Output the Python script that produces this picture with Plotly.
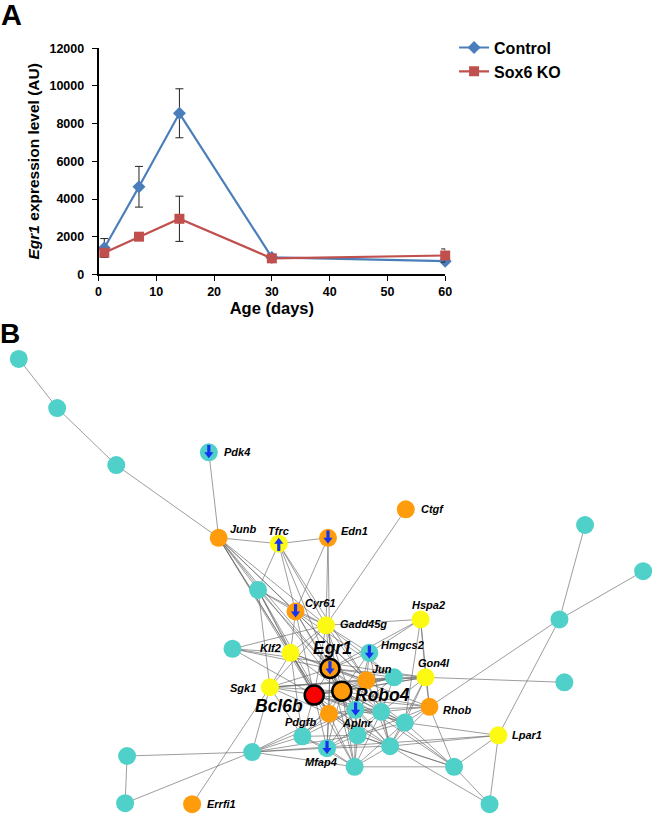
import plotly.graph_objects as go

# ---------------- Panel A data ----------------
age_days = [1, 7, 14, 30, 60]
control_vals = [1400, 4650, 8550, 900, 700]
control_err = [500, 1080, 1300, 150, 100]
ko_vals = [1150, 2000, 2950, 850, 1000]
ko_err = [150, 100, 1200, 120, 350]
y_ticks = [0, 2000, 4000, 6000, 8000, 10000, 12000]
x_ticks = [0, 10, 20, 30, 40, 50, 60]

# ---------------- Panel B data (network layout coordinates) ----------------
node_names = ["n1", "n2", "n3", "Pdk4", "Junb", "Tfrc", "Edn1", "Ctgf", "n4", "Cyr61",
              "Gadd45g", "Hspa2", "n5", "Klf2", "Hmgcs2", "Egr1", "Jun", "n6", "Gon4l", "Sgk1",
              "Bcl6b", "Robo4", "Rhob", "Aplnr", "n7", "Pdgfb", "n8", "n9", "n10", "n11",
              "Mfap4", "n12", "n13", "n14", "Errfi1", "n15", "n16", "Lpar1", "n17", "n18",
              "n19", "n20", "n21"]
node_x = [16, 55, 115, 209, 219, 280, 330, 409, 259, 297,
          328, 424, 233, 292, 372, 332, 369, 397, 429, 271,
          316, 344, 433, 358, 384, 331, 408, 304, 360, 393,
          329, 253, 357, 458, 192, 126, 124, 503, 494, 570,
          565, 591, 650]
node_y = [358, 408, 466, 453, 540, 546, 540, 511, 593, 615,
          629, 623, 653, 657, 657, 673, 685, 682, 682, 692,
          700, 696, 712, 715, 717, 719, 728, 742, 741, 752,
          754, 758, 773, 773, 811, 762, 810, 741, 811, 687,
          623, 527, 574]
node_group = ["other", "other", "other", "other", "up", "yellow", "up", "up", "other", "up",
              "yellow", "yellow", "other", "yellow", "other", "up", "up", "other", "yellow", "yellow",
              "bcl6b", "up", "up", "other", "other", "up", "other", "other", "other", "other",
              "other", "other", "other", "other", "up", "other", "other", "yellow", "other", "other",
              "other", "other", "other"]
down_genes = ["Pdk4", "Edn1", "Cyr61", "Hmgcs2", "Egr1", "Aplnr", "Mfap4"]
up_genes = ["Tfrc"]
key_genes = ["Egr1", "Robo4", "Bcl6b"]

edges = [
    ("n1", "n2"), ("n2", "n3"), ("n3", "Junb"), ("Pdk4", "Junb"), ("Junb", "Tfrc"), ("Tfrc", "Edn1"),
    ("Ctgf", "Gadd45g"), ("Gon4l", "n18"), ("Rhob", "n19"), ("Lpar1", "n19"), ("n19", "n20"),
    ("n19", "n21"), ("Lpar1", "n17"), ("n14", "n17"), ("n11", "n17"), ("Rhob", "n14"),
    ("Lpar1", "n14"), ("Lpar1", "n8"), ("Lpar1", "n11"), ("Lpar1", "n12"), ("n12", "n15"),
    ("n15", "n16"), ("n16", "n12"), ("Errfi1", "Sgk1"),
    ("n5", "Klf2"), ("n5", "Gadd45g"), ("n5", "Egr1"), ("n5", "Bcl6b"), ("n5", "Gon4l"),
    ("Junb", "n4"), ("Junb", "Cyr61"), ("Junb", "Gadd45g"), ("Junb", "Klf2"), ("Junb", "Egr1"),
    ("Junb", "Bcl6b"), ("Junb", "Robo4"), ("Junb", "Jun"), ("Junb", "Pdgfb"),
    ("Tfrc", "n4"), ("Tfrc", "Cyr61"), ("Tfrc", "Gadd45g"), ("Tfrc", "Egr1"), ("Tfrc", "Jun"),
    ("Edn1", "Cyr61"), ("Edn1", "Gadd45g"), ("Edn1", "Egr1"),
    ("n4", "Cyr61"), ("n4", "Klf2"), ("n4", "Egr1"), ("n4", "Bcl6b"), ("n4", "Sgk1"),
    ("n4", "Gadd45g"), ("n4", "Pdgfb"),
    ("Cyr61", "Gadd45g"), ("Cyr61", "Klf2"), ("Cyr61", "Egr1"), ("Cyr61", "Bcl6b"),
    ("Cyr61", "Robo4"), ("Cyr61", "Jun"), ("Cyr61", "n6"),
    ("Gadd45g", "Klf2"), ("Gadd45g", "Egr1"), ("Gadd45g", "Hmgcs2"), ("Gadd45g", "Robo4"),
    ("Gadd45g", "Bcl6b"), ("Gadd45g", "Jun"), ("Gadd45g", "Hspa2"), ("Gadd45g", "n6"),
    ("Gadd45g", "Aplnr"), ("Gadd45g", "Sgk1"),
    ("Hspa2", "Egr1"), ("Hspa2", "Hmgcs2"), ("Hspa2", "Rhob"), ("Hspa2", "n8"), ("Hspa2", "Gon4l"),
    ("Klf2", "Egr1"), ("Klf2", "Bcl6b"), ("Klf2", "Robo4"), ("Klf2", "Sgk1"), ("Klf2", "Pdgfb"),
    ("Klf2", "n9"), ("Klf2", "Jun"),
    ("Hmgcs2", "Egr1"), ("Hmgcs2", "Robo4"), ("Hmgcs2", "Jun"), ("Hmgcs2", "Aplnr"), ("Hmgcs2", "n11"),
    ("Egr1", "Robo4"), ("Egr1", "Bcl6b"), ("Egr1", "Jun"), ("Egr1", "n6"), ("Egr1", "Gon4l"),
    ("Egr1", "Sgk1"), ("Egr1", "Pdgfb"), ("Egr1", "Aplnr"), ("Egr1", "n7"), ("Egr1", "n10"),
    ("Egr1", "Mfap4"), ("Egr1", "n13"), ("Egr1", "n8"), ("Egr1", "Rhob"),
    ("Jun", "Robo4"), ("Jun", "n6"), ("Jun", "Gon4l"), ("Jun", "Aplnr"), ("Jun", "n7"),
    ("Jun", "Bcl6b"), ("Jun", "n10"), ("Jun", "n11"),
    ("n6", "Robo4"), ("n6", "Gon4l"), ("n6", "Aplnr"), ("n6", "n7"), ("n6", "Bcl6b"), ("n6", "Sgk1"),
    ("Gon4l", "Robo4"), ("Gon4l", "Rhob"), ("Gon4l", "n8"), ("Gon4l", "n7"), ("Gon4l", "Bcl6b"),
    ("Gon4l", "n11"), ("Gon4l", "Sgk1"),
    ("Sgk1", "Bcl6b"), ("Sgk1", "Robo4"), ("Sgk1", "Pdgfb"), ("Sgk1", "n9"), ("Sgk1", "Jun"),
    ("Sgk1", "n12"),
    ("Bcl6b", "Robo4"), ("Bcl6b", "Pdgfb"), ("Bcl6b", "Aplnr"), ("Bcl6b", "n9"), ("Bcl6b", "n10"),
    ("Bcl6b", "Mfap4"), ("Bcl6b", "n13"), ("Bcl6b", "n7"), ("Bcl6b", "n11"), ("Bcl6b", "n8"),
    ("Bcl6b", "Rhob"),
    ("Robo4", "Pdgfb"), ("Robo4", "Aplnr"), ("Robo4", "n7"), ("Robo4", "n8"), ("Robo4", "n9"),
    ("Robo4", "n10"), ("Robo4", "n11"), ("Robo4", "Mfap4"), ("Robo4", "n13"), ("Robo4", "Rhob"),
    ("Robo4", "n14"),
    ("Rhob", "n8"), ("Rhob", "n7"), ("Rhob", "n11"), ("Rhob", "Aplnr"), ("Rhob", "n10"),
    ("Aplnr", "Pdgfb"), ("Aplnr", "n7"), ("Aplnr", "n10"), ("Aplnr", "n11"), ("Aplnr", "Mfap4"),
    ("Aplnr", "n13"), ("Aplnr", "n9"), ("Aplnr", "n8"),
    ("n7", "n8"), ("n7", "n10"), ("n7", "n11"), ("n7", "n13"), ("n7", "Pdgfb"), ("n7", "Mfap4"),
    ("Pdgfb", "n9"), ("Pdgfb", "n10"), ("Pdgfb", "Mfap4"), ("Pdgfb", "n13"), ("Pdgfb", "n12"),
    ("Pdgfb", "n11"),
    ("n8", "n11"), ("n8", "n10"), ("n8", "n13"), ("n8", "n14"),
    ("n9", "n10"), ("n9", "Mfap4"), ("n9", "n13"), ("n9", "n12"),
    ("n10", "n11"), ("n10", "Mfap4"), ("n10", "n13"), ("n10", "n12"),
    ("n11", "n13"), ("n11", "n14"), ("n11", "Mfap4"),
    ("Mfap4", "n13"), ("Mfap4", "n12"),
    ("n12", "n13"), ("n12", "Aplnr"), ("n13", "n14"), ("n14", "n7"), ("n14", "n10"),
]

# ---------------- styles ----------------
FONT = "Liberation Sans, Arial, sans-serif"
BLUE = "#4a7ebb"
RED = "#c0504d"
group_color = {"other": "#4fd1c9", "up": "#ff9c0c", "yellow": "#fcfa12", "bcl6b": "#fa0000"}
ARROW = "#1433f0"

label_style = {
    # name: (xanchor, xshift, yshift)
    "Pdk4": ("left", 13, 0), "Junb": ("left", 9, 9), "Tfrc": ("center", 0, 13),
    "Edn1": ("left", 11, 7), "Ctgf": ("left", 13, 0), "Cyr61": ("left", 7, 9),
    "Gadd45g": ("left", 12, 1), "Hspa2": ("center", 8, 14), "Klf2": ("right", -8, 5),
    "Hmgcs2": ("left", 10, 8), "Egr1": ("center", 3, 21), "Jun": ("left", 4, 11),
    "Gon4l": ("center", 8, 14), "Sgk1": ("right", -12, -1), "Robo4": ("left", 11, -4),
    "Bcl6b": ("right", -9, -11), "Rhob": ("left", 12, -3), "Pdgfb": ("right", -11, -8),
    "Aplnr": ("center", 1, -13), "Mfap4": ("center", -6, -14), "Lpar1": ("left", 12, 0),
    "Errfi1": ("left", 13, 0),
}

W, H = 660, 821
fig = go.Figure()

# Panel A
fig.add_trace(go.Scatter(
    x=age_days, y=control_vals, name="<b>Control</b>", mode="lines+markers",
    line=dict(color=BLUE, width=2.2),
    marker=dict(symbol="diamond", size=10, color=BLUE),
    error_y=dict(type="data", array=control_err, color="#222222", thickness=1, width=4),
    cliponaxis=False, xaxis="x", yaxis="y"))
fig.add_trace(go.Scatter(
    x=age_days, y=ko_vals, name="<b>Sox6 KO</b>", mode="lines+markers",
    line=dict(color=RED, width=2.2),
    marker=dict(symbol="square", size=10, color=RED),
    error_y=dict(type="data", array=ko_err, color="#222222", thickness=1, width=4),
    cliponaxis=False, xaxis="x", yaxis="y"))

# Panel B edges
idx = {n: i for i, n in enumerate(node_names)}
ex, ey = [], []
for a, b in edges:
    ex += [node_x[idx[a]], node_x[idx[b]], None]
    ey += [node_y[idx[a]], node_y[idx[b]], None]
fig.add_trace(go.Scatter(x=ex, y=ey, mode="lines", line=dict(color="rgba(100,100,100,0.8)", width=0.8),
                         hoverinfo="skip", showlegend=False, xaxis="x2", yaxis="y2"))

# Panel B nodes
colors = [group_color[g] for g in node_group]
line_w = [2.5 if n in key_genes else 0 for n in node_names]
sizes = [19 if n in key_genes else 18 for n in node_names]
fig.add_trace(go.Scatter(x=node_x, y=node_y, mode="markers", showlegend=False,
                         marker=dict(size=sizes, color=colors, opacity=1,
                                     line=dict(color="black", width=line_w)),
                         text=node_names, hoverinfo="text", xaxis="x2", yaxis="y2"))

# Regulation arrows inside nodes: shaft (line marker) + head (triangle marker)
arrow_nodes = down_genes + up_genes
arrow_dir = [1] * len(down_genes) + [-1] * len(up_genes)   # +1 = down, -1 = up
ax_ = [node_x[idx[n]] for n in arrow_nodes]
shaft_y = [node_y[idx[n]] - 2.5 * d for n, d in zip(arrow_nodes, arrow_dir)]
head_y = [node_y[idx[n]] + 2.0 * d for n, d in zip(arrow_nodes, arrow_dir)]
head_sym = ["triangle-down" if d > 0 else "triangle-up" for d in arrow_dir]
fig.add_trace(go.Scatter(x=ax_, y=shaft_y, mode="markers", showlegend=False, hoverinfo="skip",
                         marker=dict(symbol="line-ns", size=7, opacity=1,
                                     line=dict(color=ARROW, width=3.2)),
                         xaxis="x2", yaxis="y2"))
fig.add_trace(go.Scatter(x=ax_, y=head_y, mode="markers", showlegend=False, hoverinfo="skip",
                         marker=dict(symbol=head_sym, size=8, color=ARROW, opacity=1,
                                     line=dict(width=0)),
                         xaxis="x2", yaxis="y2"))

annotations = []
for n, (xa, dx, dy) in label_style.items():
    i = idx[n]
    big = n in key_genes
    annotations.append(dict(
        x=node_x[i], y=node_y[i], xref="x2", yref="y2", showarrow=False,
        text=f"<b><i>{n}</i></b>", xanchor=xa, yanchor="middle", xshift=dx, yshift=dy,
        font=dict(family=FONT, size=17.5 if big else 11, color="black")))

annotations.append(dict(x=-4 / W, y=1 - 8 / H, xref="paper", yref="paper", text="<b>A</b>",
                        showarrow=False, xanchor="left", yanchor="middle",
                        font=dict(family=FONT, size=29, color="black")))
annotations.append(dict(x=-5 / W, y=1 - 332 / H, xref="paper", yref="paper", text="<b>B</b>",
                        showarrow=False, xanchor="left", yanchor="middle",
                        font=dict(family=FONT, size=28, color="black")))

axis_font = dict(family=FONT, size=12.5, color="black")
fig.update_layout(
    width=W, height=H, margin=dict(l=0, r=0, t=0, b=0),
    paper_bgcolor="white", plot_bgcolor="rgba(0,0,0,0)",
    font=dict(family=FONT, color="black"),
    xaxis=dict(domain=[97 / W, 449 / W], range=[0, 60], tickvals=x_ticks,
               ticktext=[f"<b>{v}</b>" for v in x_ticks], tickfont=axis_font,
               showline=True, linecolor="black", linewidth=1.6, ticks="outside", ticklen=5,
               tickwidth=1.4, tickcolor="black", showgrid=False, zeroline=False,
               title=dict(text="<b>Age (days)</b>", font=dict(family=FONT, size=16.5), standoff=2),
               anchor="y"),
    yaxis=dict(domain=[1 - 272 / H, 1 - 42 / H], range=[0, 12000], tickvals=y_ticks,
               ticktext=[f"<b>{v}</b>" for v in y_ticks], tickfont=axis_font,
               showline=True, linecolor="black", linewidth=1.6, ticks="outside", ticklen=5,
               tickwidth=1.4, tickcolor="black", showgrid=False, zeroline=False,
               ticklabelstandoff=5,
               title=dict(text="<b><i>Egr1</i> expression level (AU)</b>",
                          font=dict(family=FONT, size=15.5), standoff=6),
               anchor="x"),
    xaxis2=dict(domain=[0, 1], range=[0, W], visible=False, anchor="y2", fixedrange=True),
    yaxis2=dict(domain=[0, 1], range=[H, 0], visible=False, anchor="x2", fixedrange=True),
    legend=dict(x=458 / W, y=1 - 24 / H, xanchor="left", yanchor="top",
                font=dict(family=FONT, size=16, color="black"), bgcolor="rgba(0,0,0,0)",
                tracegroupgap=0),
    annotations=annotations,
    showlegend=True,
)

fig.write_html("out.html", config={"displayModeBar": False},
               post_script="document.body.style.margin='0';document.body.style.padding='0';")
